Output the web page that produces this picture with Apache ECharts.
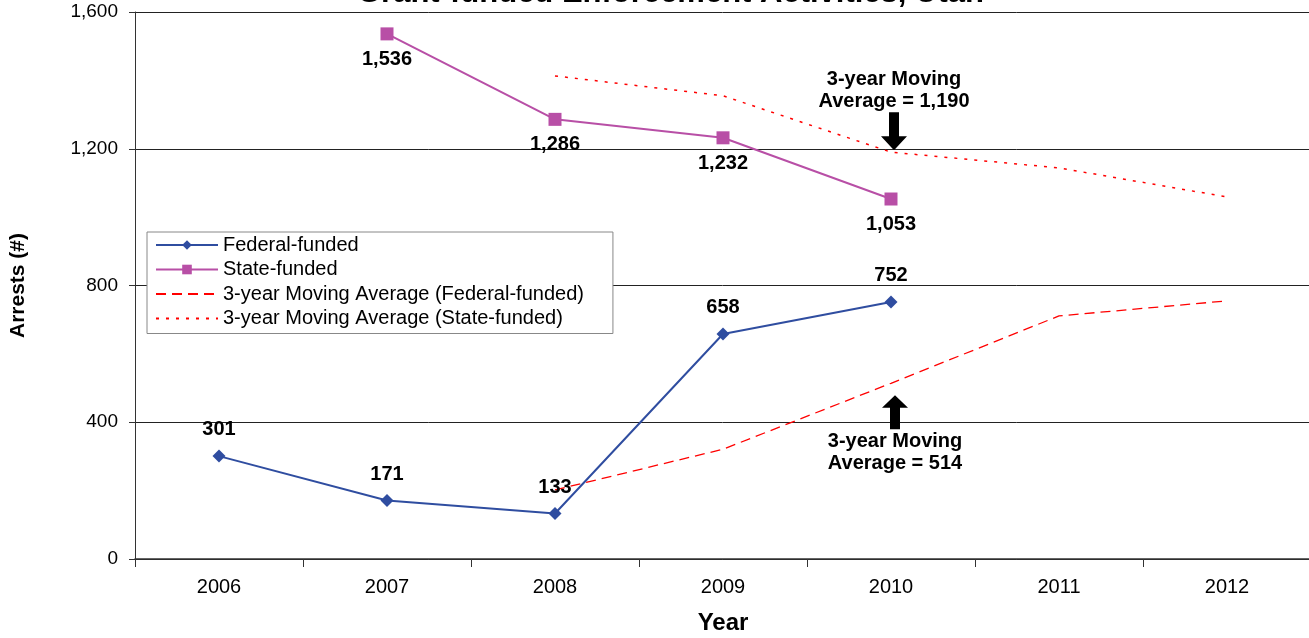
<!DOCTYPE html>
<html>
<head>
<meta charset="utf-8">
<script src="https://cdn.jsdelivr.net/npm/echarts@6/dist/echarts.min.js"></script>
<style>
html,body{margin:0;padding:0;background:#fff;}
#c{width:1309px;height:638px;}
</style>
</head>
<body>
<div id="c"></div>
<script>
const years = ['2006','2007','2008','2009','2010','2011','2012'];
const federal = [301, 171, 133, 658, 752, null, null];
const state = [null, 1536, 1286, 1232, 1053, null, null];
const federalMA = [null, null, 202, 321, 514, 711, 755];
const stateMA = [null, null, 1413, 1355, 1190, 1144, 1059];
const yTicks = [0, 400, 800, 1200, 1600];

const FONT = 'Liberation Sans, Arial, sans-serif';
const downArrow = 'path://M8,0 L18,0 L18,24 L26,24 L13,38 L0,24 L8,24 Z';
const upArrow = 'path://M13,0 L26,14 L18,14 L18,38 L8,38 L8,14 L0,14 Z';
const fmt = v => v.toLocaleString('en-US');

const chart = echarts.init(document.getElementById('c'));
chart.setOption({
  animation: false,
  backgroundColor: '#fff',
  textStyle: { fontFamily: FONT },
  title: {
    text: 'Grant-funded Enforcement Activities, Utah',
    left: 352, top: -27,
    textStyle: { fontFamily: FONT, fontSize: 31, fontWeight: 'bold', color: '#000' }
  },
  grid: { left: 135, right: -2, top: 12, bottom: 79, containLabel: false, outerBoundsMode: 'none' },
  legend: {
    orient: 'vertical', left: 147, top: 232,
    backgroundColor: '#fff', borderColor: '#888', borderWidth: 1,
    padding: [3, 29, 5, 8], itemGap: 4.5, itemWidth: 62, itemHeight: 12,
    textStyle: { fontFamily: FONT, fontSize: 20, color: '#000' },
    data: [
      { name: 'Federal-funded' },
      { name: 'State-funded' },
      { name: '3-year Moving Average (Federal-funded)', itemStyle: { opacity: 0 } },
      { name: '3-year Moving Average (State-funded)', itemStyle: { opacity: 0 } }
    ]
  },
  xAxis: {
    type: 'category', data: years, boundaryGap: true,
    name: 'Year', nameLocation: 'middle', nameGap: 52,
    nameTextStyle: { fontFamily: FONT, fontSize: 24, fontWeight: 'bold', color: '#000' },
    axisLine: { lineStyle: { color: '#333', width: 1.5 } },
    axisTick: { show: true, length: 8, lineStyle: { color: '#333' } },
    axisLabel: { fontFamily: FONT, fontSize: 20, color: '#000', margin: 18 }
  },
  yAxis: {
    type: 'value', min: 0, max: 1600, interval: 400,
    name: 'Arrests (#)', nameLocation: 'middle', nameGap: 106, nameRotate: 90,
    nameTextStyle: { fontFamily: FONT, fontSize: 21, fontWeight: 'bold', color: '#000' },
    axisLine: { show: true, lineStyle: { color: '#333' } },
    axisTick: { show: true, length: 6, inside: false, lineStyle: { color: '#333' } },
    axisLabel: { fontFamily: FONT, fontSize: 19, color: '#000', margin: 17, formatter: v => fmt(v) },
    splitLine: { show: true, lineStyle: { color: '#222', width: 1 } }
  },
  series: [
    {
      name: 'Federal-funded', type: 'line', data: federal,
      symbol: 'diamond', symbolSize: 13,
      itemStyle: { color: '#2F4DA0' }, lineStyle: { color: '#2F4DA0', width: 2 },
      label: { show: true, position: 'top', distance: 10, fontFamily: FONT, fontSize: 20, fontWeight: 'bold', color: '#000', formatter: p => fmt(p.value) },
      z: 5
    },
    {
      name: 'State-funded', type: 'line', data: state,
      symbol: 'rect', symbolSize: 13,
      itemStyle: { color: '#B84FA6' }, lineStyle: { color: '#B84FA6', width: 2 },
      label: { show: true, position: 'bottom', distance: 9, fontFamily: FONT, fontSize: 20, fontWeight: 'bold', color: '#000', formatter: p => fmt(p.value) },
      z: 5
    },
    {
      name: '3-year Moving Average (Federal-funded)', type: 'line', data: federalMA,
      symbol: 'none', itemStyle: { color: '#FF0000' },
      lineStyle: { color: '#FF0000', width: 1.3, type: [10, 6] },
      markPoint: {
        silent: true,
        data: [{
          coord: ['2010', 514], symbol: upArrow, symbolSize: [26, 34], symbolOffset: [4, 29],
          itemStyle: { color: '#000' },
          label: { show: true, position: 'bottom', distance: 1, fontFamily: FONT, fontSize: 20, fontWeight: 'bold', color: '#000', lineHeight: 22, formatter: '3-year Moving\nAverage = 514' }
        }]
      }
    },
    {
      name: '3-year Moving Average (State-funded)', type: 'line', data: stateMA,
      symbol: 'none', itemStyle: { color: '#FF0000' },
      lineStyle: { color: '#FF0000', width: 1.5, type: [3, 7] },
      markPoint: {
        silent: true,
        data: [{
          coord: ['2010', 1190], symbol: downArrow, symbolSize: [26, 38], symbolOffset: [3, -21],
          itemStyle: { color: '#000' },
          label: { show: true, position: 'top', distance: 0, fontFamily: FONT, fontSize: 20, fontWeight: 'bold', color: '#000', lineHeight: 22, formatter: '3-year Moving\nAverage = 1,190' }
        }]
      }
    }
  ]
});
</script>
</body>
</html>
